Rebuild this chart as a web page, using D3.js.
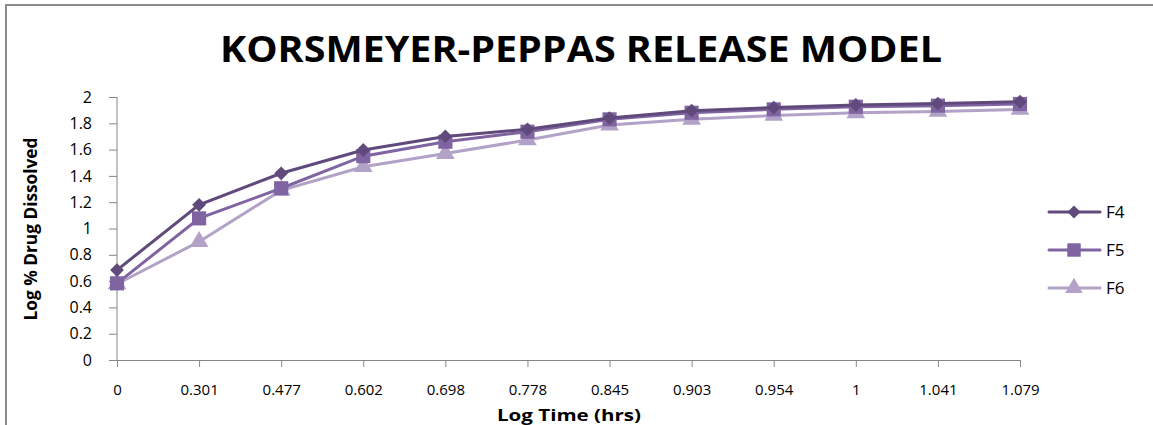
<!DOCTYPE html>
<html>
<head>
<meta charset="utf-8">
<script src="https://cdn.jsdelivr.net/npm/d3@7"></script>
<style>
  body { margin: 0; background: #fff; }
  text { font-family: "Open Sans", sans-serif; fill: #000; }
</style>
</head>
<body>
<div id="chart"></div>
<script>
// Categories and series
const times = ["0", "0.301", "0.477", "0.602", "0.698", "0.778", "0.845", "0.903", "0.954", "1", "1.041", "1.079"];
const f4 = [0.684, 1.18, 1.42, 1.597, 1.70, 1.754, 1.84, 1.896, 1.92, 1.94, 1.95, 1.964];
const f5 = [0.583, 1.077, 1.306, 1.55, 1.66, 1.736, 1.83, 1.88, 1.906, 1.926, 1.934, 1.947];
const f6 = [0.578, 0.90, 1.29, 1.47, 1.57, 1.673, 1.787, 1.83, 1.86, 1.88, 1.89, 1.906];
const yTicks = [0, 0.2, 0.4, 0.6, 0.8, 1, 1.2, 1.4, 1.6, 1.8, 2];

const series = [
  {name: "F4", values: f4, color: "#604a7b", symbol: d3.symbolSquare, rot: 45, size: 95},
  {name: "F5", values: f5, color: "#8064a2", symbol: d3.symbolSquare, rot: 0, size: 200},
  {name: "F6", values: f6, color: "#b3a2c7", symbol: d3.symbolTriangle, rot: 0, size: 150}
];

const W = 1153, H = 425;
const margin = {top: 97, right: 133, bottom: 65, left: 117},
    width = W - margin.left - margin.right,
    height = H - margin.top - margin.bottom;

const root = d3.select("#chart").append("svg")
    .attr("width", W)
    .attr("height", H);

// outer frame
root.append("path")
    .attr("d", `M6,${H} L6,5 L${W},5`)
    .attr("fill", "none")
    .attr("stroke", "#8c8c8c")
    .attr("stroke-width", 2);

// title
root.append("text")
    .attr("x", 581)
    .attr("y", 62)
    .attr("text-anchor", "middle")
    .style("font-size", "36px")
    .style("font-weight", "bold")
    .attr("textLength", 722)
    .attr("lengthAdjust", "spacingAndGlyphs")
    .text("KORSMEYER-PEPPAS RELEASE MODEL");

const svg = root.append("g")
    .attr("transform", `translate(${margin.left},${margin.top})`);

const x = d3.scalePoint()
    .domain(times)
    .range([0, width]);

const y = d3.scaleLinear()
    .domain([0, 2])
    .range([height, 0]);

// X axis
const xAxis = svg.append("g")
    .attr("transform", `translate(0,${height})`)
    .call(d3.axisBottom(x).tickSize(7).tickPadding(17));
xAxis.selectAll("path, line").attr("stroke", "#868686");
xAxis.selectAll("text").style("font-size", "15px").style("font-family", "\"Open Sans\", sans-serif");

// Y axis
const yAxis = svg.append("g")
    .call(d3.axisLeft(y).tickValues(yTicks).tickFormat(d3.format("~g")).tickSize(8).tickPadding(17));
yAxis.selectAll("path, line").attr("stroke", "#868686");
yAxis.select(".domain").attr("d", `M0,${height}V0`);
yAxis.selectAll("text").style("font-size", "16px").style("font-family", "\"Open Sans\", sans-serif");

// axis titles
root.append("text")
    .attr("x", 569)
    .attr("y", 421)
    .attr("text-anchor", "middle")
    .style("font-size", "16px")
    .style("font-weight", "bold")
    .attr("textLength", 144)
    .attr("lengthAdjust", "spacingAndGlyphs")
    .text("Log Time (hrs)");

root.append("text")
    .attr("transform", "translate(37,229) rotate(-90)")
    .attr("text-anchor", "middle")
    .style("font-size", "17px")
    .style("font-weight", "bold")
    .attr("textLength", 183)
    .attr("lengthAdjust", "spacingAndGlyphs")
    .text("Log % Drug Dissolved");

// lines and markers (draw F6 first so F4 sits on top)
const line = d3.line()
    .x((d, i) => x(times[i]))
    .y(d => y(d));

series.slice().reverse().forEach(s => {
    svg.append("path")
        .datum(s.values)
        .attr("fill", "none")
        .attr("stroke", s.color)
        .attr("stroke-width", 3)
        .attr("d", line);

    svg.selectAll(null)
        .data(s.values)
        .enter().append("path")
        .attr("transform", (d, i) => `translate(${x(times[i])},${y(d)}) rotate(${s.rot})`)
        .attr("d", d3.symbol().type(s.symbol).size(s.size))
        .attr("fill", s.color);
});

// legend
const legend = root.append("g");
series.forEach((s, i) => {
    const ly = 212 + i * 38;
    legend.append("line")
        .attr("x1", 1049).attr("x2", 1100)
        .attr("y1", ly).attr("y2", ly)
        .attr("stroke", s.color)
        .attr("stroke-width", 3)
        .attr("stroke-linecap", "round");
    legend.append("path")
        .attr("transform", `translate(1074,${ly}) rotate(${s.rot})`)
        .attr("d", d3.symbol().type(s.symbol).size(s.size * 0.9))
        .attr("fill", s.color);
    legend.append("text")
        .attr("x", 1106)
        .attr("y", ly)
        .attr("dy", "0.35em")
        .style("font-size", "17px")
        .text(s.name);
});
</script>
</body>
</html>
